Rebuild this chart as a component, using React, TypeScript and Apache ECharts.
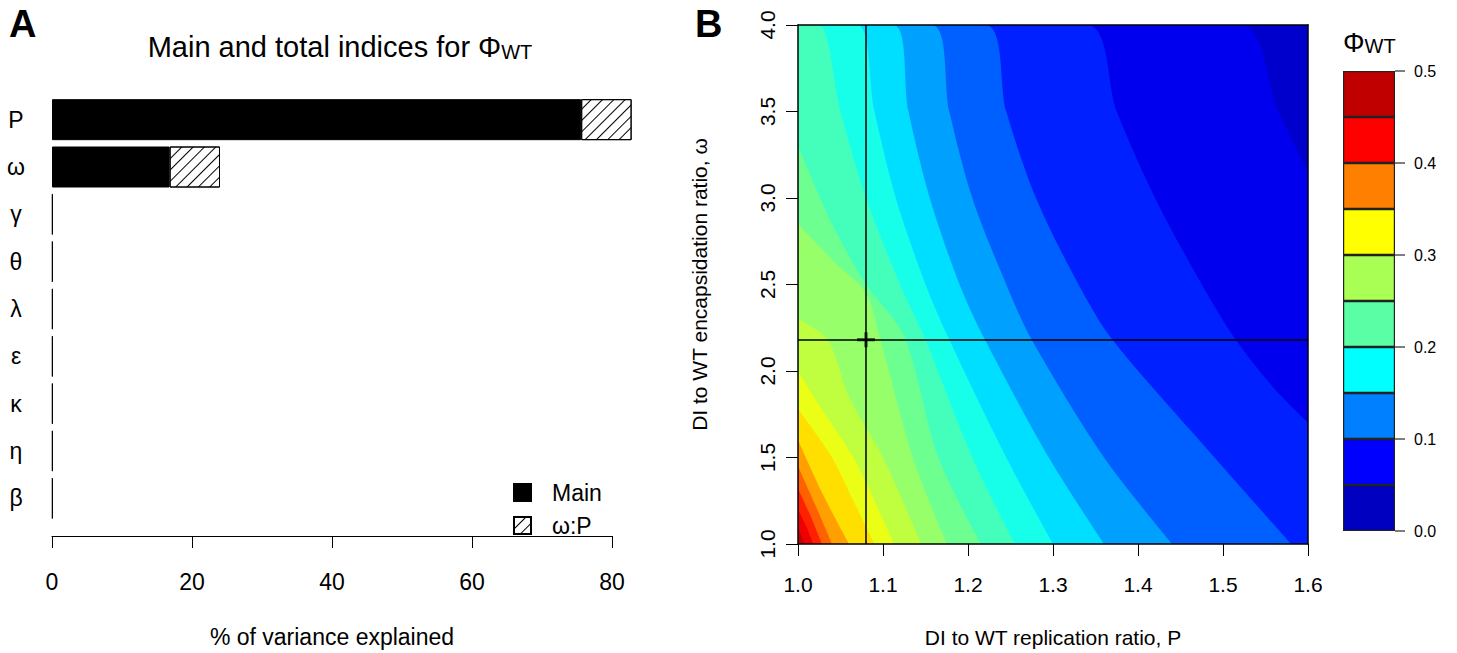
import React, { useEffect, useRef } from "react";
import * as echarts from "echarts";

const FONT = "'Liberation Sans', Arial, Helvetica, sans-serif";

// ---------- Panel A data ----------
const categories = ["P", "ω", "γ", "θ", "λ", "ε", "κ", "η", "β"];
const mainIdx = [75.6, 16.8, 0.1, 0.1, 0.1, 0.1, 0.1, 0.1, 0.1];
const interIdx = [7.2, 7.2, 0, 0, 0, 0, 0, 0, 0];
const pctMin = 0;
const pctMax = 80;
const pctStep = 20;

// ---------- Panel B data ----------
const pRange = [1.0, 1.6];
const wRange = [1.0, 4.0];
const pStep = 0.1;
const wStep = 0.5;
const crossP = 1.08;
const crossW = 2.18;

// colour bar
const cbBreaks = [0, 0.05, 0.1, 0.15, 0.2, 0.25, 0.3, 0.35, 0.4, 0.45, 0.5];
const cbColors = [
  "#0000C0", "#0000FF", "#0080FF", "#00FFFF", "#5AFFA5",
  "#AAFF55", "#FFFF00", "#FF8000", "#FF0000", "#C00000",
];
const cbTickStep = 0.1;

// iso-lines of Phi_WT: [P, omega] points
const levels = [0.05, 0.075, 0.1, 0.125, 0.15, 0.175, 0.2, 0.225, 0.25, 0.275, 0.3, 0.325, 0.35, 0.375, 0.4, 0.425, 0.45];
const lv050 = [[1.0, 4.0], [1.52, 4.0], [1.565, 3.5], [1.6, 3.15]];
const lv075 = [[1.0, 4.0], [1.34, 4.0], [1.375, 3.5], [1.42, 3.0], [1.475, 2.5], [1.515, 2.18], [1.56, 1.9], [1.6, 1.7]];
const lv100 = [[1.0, 4.0], [1.22, 4.0], [1.245, 3.5], [1.28, 3.0], [1.33, 2.5], [1.37, 2.18], [1.49, 1.5], [1.58, 1.0]];
const lv125 = [[1.0, 4.0], [1.157, 4.0], [1.178, 3.5], [1.205, 3.0], [1.245, 2.5], [1.275, 2.18], [1.36, 1.5], [1.44, 1.0]];
const lv150 = [[1.0, 4.0], [1.112, 4.0], [1.13, 3.5], [1.155, 3.0], [1.19, 2.5], [1.22, 2.18], [1.295, 1.5], [1.36, 1.0]];
const lv175 = [[1.0, 4.0], [1.07, 4.0], [1.09, 3.5], [1.115, 3.0], [1.15, 2.5], [1.178, 2.18], [1.245, 1.5], [1.3, 1.0]];
const lv200 = [[1.0, 4.0], [1.025, 4.0], [1.05, 3.5], [1.08, 3.0], [1.12, 2.5], [1.15, 2.18], [1.205, 1.5], [1.255, 1.0]];
const lv225 = [[1.0, 3.3], [1.04, 2.85], [1.08, 2.5], [1.125, 2.2], [1.165, 1.5], [1.215, 1.0]];
const lv250 = [[1.0, 2.85], [1.045, 2.62], [1.08, 2.45], [1.097, 2.18], [1.135, 1.5], [1.175, 1.0]];
const lv275 = [[1.0, 2.3], [1.035, 2.18], [1.06, 1.85], [1.1, 1.5], [1.145, 1.0]];
const lv300 = [[1.0, 2.0], [1.025, 1.8], [1.065, 1.5], [1.09, 1.25], [1.113, 1.0]];
const lv325 = [[1.0, 1.78], [1.04, 1.5], [1.065, 1.25], [1.09, 1.0]];
const lv350 = [[1.0, 1.6], [1.03, 1.28], [1.06, 1.0]];
const lv375 = [[1.0, 1.45], [1.02, 1.23], [1.04, 1.0]];
const lv400 = [[1.0, 1.32], [1.014, 1.17], [1.028, 1.0]];
const lv425 = [[1.0, 1.2], [1.01, 1.1], [1.018, 1.0]];
const lv450 = [[1.0, 1.1], [1.008, 1.0]];
const contours = [lv050, lv075, lv100, lv125, lv150, lv175, lv200, lv225, lv250, lv275, lv300, lv325, lv350, lv375, lv400, lv425, lv450];
const phiMinSeen = 0.035;
const phiMaxSeen = 0.49;

// ---------- helpers (styling only) ----------
function hexToRgb(h: string) {
  const n = parseInt(h.slice(1), 16);
  return [(n >> 16) & 255, (n >> 8) & 255, n & 255];
}
function cmap(v: number) {
  const centers = cbColors.map((_, i) => (cbBreaks[i] + cbBreaks[i + 1]) / 2);
  const rgbs = cbColors.map(hexToRgb);
  if (v <= centers[0]) return cbColors[0];
  if (v >= centers[centers.length - 1]) return cbColors[cbColors.length - 1];
  let i = 0;
  while (v > centers[i + 1]) i++;
  const t = (v - centers[i]) / (centers[i + 1] - centers[i]);
  const c = rgbs[i].map((a, k) => Math.round(a + (rgbs[i + 1][k] - a) * t));
  return `rgb(${c[0]},${c[1]},${c[2]})`;
}
function bandColor(i: number) {
  const lo = levels[i];
  const hi = i + 1 < levels.length ? levels[i + 1] : phiMaxSeen;
  return cmap((lo + hi) / 2);
}

export default function App() {
  const ref = useRef<HTMLDivElement>(null);
  useEffect(() => {
    if (!ref.current) return;
    const chart = echarts.init(ref.current, undefined, { renderer: "svg" });

    const contourSeries = contours.map((pts, i) => ({
      type: "line",
      name: "phi>" + levels[i],
      xAxisIndex: 1,
      yAxisIndex: 1,
      data: pts,
      smooth: 0.3,
      symbol: "none",
      showSymbol: false,
      silent: true,
      clip: true,
      lineStyle: { width: 0, color: bandColor(i) },
      areaStyle: { color: bandColor(i), opacity: 1, origin: "start" },
      z: 2,
    }));

    const cbSeries = cbColors.map((c, i) => ({
      type: "bar",
      name: "cb" + i,
      xAxisIndex: 3,
      yAxisIndex: 3,
      stack: "cb",
      barWidth: "100%",
      data: [cbBreaks[i + 1] - cbBreaks[i]],
      itemStyle: { color: c, borderColor: "#222", borderWidth: 1.2 },
      silent: true,
    }));

    const option: any = {
      animation: false,
      textStyle: { fontFamily: FONT },
      legend: {
        data: ["Main", "ω:P"],
        orient: "vertical",
        left: 508,
        top: 476,
        itemWidth: 17,
        itemHeight: 17,
        itemGap: 10,
        icon: "rect",
        selectedMode: false,
        textStyle: { fontSize: 23, color: "#000", fontFamily: FONT, padding: [0, 0, 0, 16] },
      },
      grid: [
        { left: 52, top: 96, width: 560, height: 432 },
        { left: 798, top: 25, width: 510, height: 523, show: true, borderWidth: 0, backgroundColor: cmap(phiMinSeen) },
        { left: 1343, top: 71, width: 52, height: 460 },
      ],
      xAxis: [
        {
          gridIndex: 0,
          type: "value",
          min: pctMin,
          max: pctMax,
          interval: pctStep,
          offset: 14,
          axisLine: { show: true, lineStyle: { color: "#000", width: 1 } },
          axisTick: { show: true, length: 12, lineStyle: { color: "#000", width: 1 } },
          axisLabel: { fontSize: 23, color: "#000", margin: 34, fontFamily: FONT },
          splitLine: { show: false },
          name: "% of variance explained",
          nameLocation: "middle",
          nameGap: 89,
          nameTextStyle: { fontSize: 23, color: "#000", fontFamily: FONT },
        },
        {
          gridIndex: 1,
          type: "value",
          min: pRange[0],
          max: pRange[1],
          interval: pStep,
          z: 10,
          axisLine: { show: true, onZero: false, lineStyle: { color: "#000", width: 1.5 } },
          axisTick: { show: true, length: 12, lineStyle: { color: "#000", width: 1 } },
          axisLabel: { fontSize: 21, color: "#000", margin: 30, fontFamily: FONT, formatter: (v: number) => v.toFixed(1) },
          splitLine: { show: false },
          name: "DI to WT replication ratio, P",
          nameLocation: "middle",
          nameGap: 83,
          nameTextStyle: { fontSize: 21, color: "#000", fontFamily: FONT },
        },
        {
          gridIndex: 1,
          type: "value",
          position: "top",
          min: pRange[0],
          max: pRange[1],
          z: 10,
          axisLine: { show: true, onZero: false, lineStyle: { color: "#000", width: 1.5 } },
          axisTick: { show: false },
          axisLabel: { show: false },
          splitLine: { show: false },
        },
        {
          gridIndex: 2,
          type: "category",
          data: ["cb"],
          show: false,
        },
      ],
      yAxis: [
        {
          gridIndex: 0,
          type: "category",
          data: categories,
          inverse: true,
          axisLine: { show: false },
          axisTick: { show: false },
          axisLabel: { fontSize: 23, color: "#000", align: "center", margin: 36, fontFamily: FONT },
        },
        {
          gridIndex: 1,
          type: "value",
          min: wRange[0],
          max: wRange[1],
          interval: wStep,
          z: 10,
          axisLine: { show: true, onZero: false, lineStyle: { color: "#000", width: 1.5 } },
          axisTick: { show: true, length: 12, lineStyle: { color: "#000", width: 1 } },
          axisLabel: { fontSize: 21, color: "#000", margin: 20, rotate: 90, fontFamily: FONT, formatter: (v: number) => v.toFixed(1) },
          splitLine: { show: false },
          name: "DI to WT encapsidation ratio, ω",
          nameLocation: "middle",
          nameRotate: 90,
          nameGap: 88,
          nameTextStyle: { fontSize: 21, color: "#000", fontFamily: FONT },
        },
        {
          gridIndex: 1,
          type: "value",
          position: "right",
          min: wRange[0],
          max: wRange[1],
          z: 10,
          axisLine: { show: true, onZero: false, lineStyle: { color: "#000", width: 1.5 } },
          axisTick: { show: false },
          axisLabel: { show: false },
          splitLine: { show: false },
        },
        {
          gridIndex: 2,
          type: "value",
          position: "right",
          min: cbBreaks[0],
          max: cbBreaks[cbBreaks.length - 1],
          interval: cbTickStep,
          axisLine: { show: false },
          axisTick: { show: true, length: 10, lineStyle: { color: "#555", width: 1.5 } },
          axisLabel: { fontSize: 16, color: "#000", margin: 19, fontFamily: FONT, formatter: (v: number) => v.toFixed(1) },
          splitLine: { show: false },
        },
      ],
      graphic: [
        { type: "text", left: 9, top: 5, style: { text: "A", fontSize: 38, fontWeight: 900, fontFamily: FONT, fill: "#000" } },
        { type: "text", left: 695, top: 5, style: { text: "B", fontSize: 38, fontWeight: 900, fontFamily: FONT, fill: "#000" } },
        {
          type: "text",
          x: 340,
          y: 44,
          style: {
            text: "{m|Main and total indices for Φ}{s|WT}",
            align: "center",
            verticalAlign: "middle",
            fill: "#000",
            rich: {
              m: { fontSize: 29, lineHeight: 35, verticalAlign: "bottom", fontFamily: FONT },
              s: { fontSize: 20, lineHeight: 20, verticalAlign: "bottom", fontFamily: FONT },
            },
          },
        },
        {
          type: "text",
          x: 1343,
          y: 38,
          style: {
            text: "{m|Φ}{s|WT}",
            align: "left",
            verticalAlign: "middle",
            fill: "#000",
            rich: {
              m: { fontSize: 27, lineHeight: 36, verticalAlign: "bottom", fontFamily: FONT },
              s: { fontSize: 20, lineHeight: 19, verticalAlign: "bottom", fontFamily: FONT },
            },
          },
        },
      ],
      series: [
        {
          type: "bar",
          name: "Main",
          xAxisIndex: 0,
          yAxisIndex: 0,
          stack: "a",
          barWidth: 41,
          clip: false,
          data: mainIdx,
          itemStyle: { color: "#000", borderColor: "#000", borderWidth: 1 },
        },
        {
          type: "bar",
          name: "ω:P",
          xAxisIndex: 0,
          yAxisIndex: 0,
          stack: "a",
          barWidth: 41,
          clip: false,
          data: interIdx.map((v) => (v > 0 ? v : null)),
          itemStyle: {
            color: "#fff",
            borderColor: "#000",
            borderWidth: 1,
            decal: {
              symbol: "rect",
              symbolSize: 1,
              dashArrayX: [1, 0],
              dashArrayY: [1, 7],
              rotation: -Math.PI / 4,
              color: "#000",
              backgroundColor: "#fff",
            },
          },
        },
        ...contourSeries,
        {
          type: "scatter",
          name: "cross",
          xAxisIndex: 1,
          yAxisIndex: 1,
          data: [[crossP, crossW]],
          symbol: "path://M0,6L18,6L18,9L0,9Z M7.5,0L10.5,0L10.5,15L7.5,15Z",
          symbolSize: [18, 15],
          itemStyle: { color: "#000" },
          silent: true,
          z: 6,
          markLine: {
            silent: true,
            symbol: ["none", "none"],
            label: { show: false },
            lineStyle: { color: "#000", width: 1.5, type: "solid" },
            data: [{ xAxis: crossP }, { yAxis: crossW }],
          },
        },
        ...cbSeries,
      ],
    };
    chart.setOption(option);
    return () => chart.dispose();
  }, []);
  return (
    <div
      ref={ref}
      style={{ position: "fixed", left: 0, top: 0, width: 1457, height: 653, background: "#fff" }}
    />
  );
}
